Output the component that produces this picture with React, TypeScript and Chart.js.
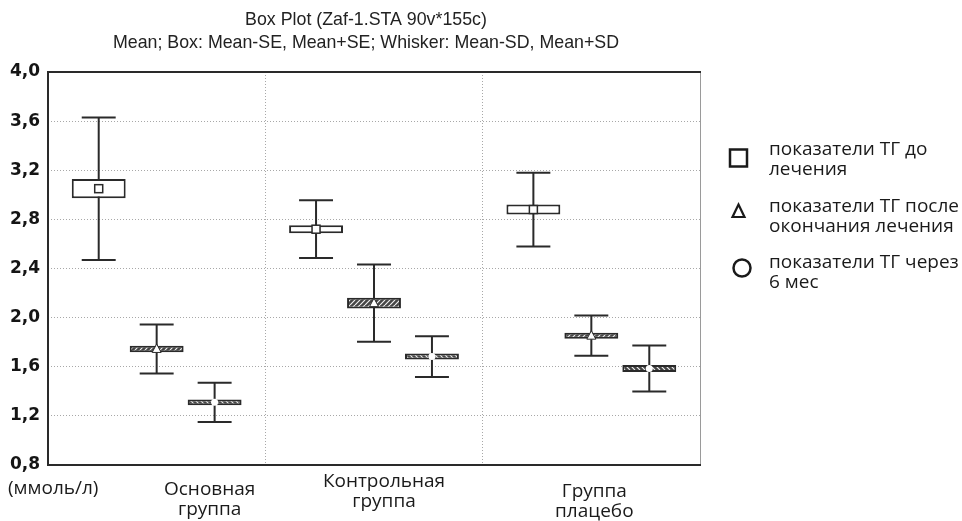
import React, { useEffect, useRef } from 'react';
import { Chart, registerables } from 'chart.js';

Chart.register(...registerables);

// ---- data ----
const groupLabels = ['Основная группа', 'Контрольная группа', 'Группа плацебо'];
const groupLabelLines = [
  ['Основная', 'группа'],
  ['Контрольная', 'группа'],
  ['Группа', 'плацебо'],
];
const seriesNames = [
  'показатели ТГ до лечения',
  'показатели ТГ после окончания лечения',
  'показатели ТГ через 6 мес',
];
const legendLines = [
  ['показатели ТГ до', 'лечения'],
  ['показатели ТГ после', 'окончания лечения'],
  ['показатели ТГ через', '6 мес'],
];

const meanBefore = [3.05, 2.72, 2.88];
const seBefore = [0.078, 0.032, 0.041];
const sdBefore = [0.58, 0.235, 0.3];

const meanAfter = [1.745, 2.118, 1.853];
const seAfter = [0.026, 0.044, 0.024];
const sdAfter = [0.2, 0.315, 0.164];

const mean6m = [1.31, 1.683, 1.586];
const se6m = [0.023, 0.024, 0.029];
const sd6m = [0.16, 0.166, 0.187];

const yMin = 0.8;
const yMax = 4.0;
const yStep = 0.4;

const titleLines = [
  'Box Plot (Zaf-1.STA 90v*155c)',
  'Mean; Box: Mean-SE, Mean+SE; Whisker: Mean-SD, Mean+SD',
];
const unitLabel = '(ммоль/л)';

const means = [meanBefore, meanAfter, mean6m];
const ses = [seBefore, seAfter, se6m];
const sds = [sdBefore, sdAfter, sd6m];

const INK = '#2a2a2a';

function makeHatch(dir: 1 | -1): CanvasPattern | string {
  const c = document.createElement('canvas');
  const s = 5;
  c.width = s;
  c.height = s;
  const g = c.getContext('2d');
  if (!g) return '#555';
  g.fillStyle = '#454545';
  g.fillRect(0, 0, s, s);
  g.strokeStyle = '#f0f0f0';
  g.lineWidth = 1.2;
  g.beginPath();
  if (dir === 1) {
    for (let k = -1; k <= 1; k++) {
      g.moveTo(k * s, s);
      g.lineTo(k * s + s, 0);
    }
  } else {
    for (let k = -1; k <= 1; k++) {
      g.moveTo(k * s, 0);
      g.lineTo(k * s + s, s);
    }
  }
  g.stroke();
  const p = g.createPattern(c, 'repeat');
  return p || '#555';
}

const whiskerPlugin = {
  id: 'whiskers',
  beforeDatasetsDraw(chart: any) {
    const ctx = chart.ctx;
    const y = chart.scales.y;
    ctx.save();
    ctx.strokeStyle = INK;
    ctx.lineWidth = 2;
    chart.data.datasets.forEach((_ds: any, di: number) => {
      const meta = chart.getDatasetMeta(di);
      meta.data.forEach((el: any, i: number) => {
        const m = means[di][i];
        const sd = sds[di][i];
        const x = el.x;
        const hw = el.width * 0.315;
        const yt = y.getPixelForValue(m + sd);
        const yb = y.getPixelForValue(m - sd);
        ctx.beginPath();
        ctx.moveTo(x, yt);
        ctx.lineTo(x, yb);
        ctx.moveTo(x - hw, yt);
        ctx.lineTo(x + hw, yt);
        ctx.moveTo(x - hw, yb);
        ctx.lineTo(x + hw, yb);
        ctx.stroke();
      });
    });
    ctx.restore();
  },
  afterDatasetsDraw(chart: any) {
    const ctx = chart.ctx;
    const y = chart.scales.y;
    ctx.save();
    chart.data.datasets.forEach((_ds: any, di: number) => {
      const meta = chart.getDatasetMeta(di);
      meta.data.forEach((el: any, i: number) => {
        const x = el.x;
        const ym = y.getPixelForValue(means[di][i]);
        ctx.fillStyle = '#ffffff';
        ctx.strokeStyle = INK;
        ctx.lineWidth = 1.5;
        if (di === 0) {
          ctx.fillRect(x - 4, ym - 4, 8, 8);
          ctx.strokeRect(x - 4, ym - 4, 8, 8);
        } else if (di === 1) {
          ctx.beginPath();
          ctx.moveTo(x, ym - 5);
          ctx.lineTo(x + 4.5, ym + 3.5);
          ctx.lineTo(x - 4.5, ym + 3.5);
          ctx.closePath();
          ctx.fill();
          ctx.lineWidth = 1;
          ctx.stroke();
        } else {
          ctx.beginPath();
          ctx.arc(x, ym, 3.5, 0, Math.PI * 2);
          ctx.fill();
        }
      });
    });
    ctx.restore();
  },
};

const framePlugin = {
  id: 'frameAndText',
  afterDraw(chart: any) {
    const ctx = chart.ctx;
    const a = chart.chartArea;
    const xs = chart.scales.x;
    ctx.save();
    // frame
    ctx.strokeStyle = '#9a9a9a';
    ctx.lineWidth = 1;
    ctx.beginPath();
    ctx.moveTo(a.right + 0.5, a.top);
    ctx.lineTo(a.right + 0.5, a.bottom);
    ctx.stroke();
    ctx.strokeStyle = INK;
    ctx.lineWidth = 2;
    ctx.beginPath();
    ctx.moveTo(a.right + 1, a.top);
    ctx.lineTo(a.left, a.top);
    ctx.lineTo(a.left, a.bottom);
    ctx.lineTo(a.right + 1, a.bottom);
    ctx.stroke();

    // title
    ctx.fillStyle = '#222';
    ctx.textAlign = 'center';
    ctx.textBaseline = 'middle';
    ctx.font = '17.8px "Liberation Sans", Arial, sans-serif';
    ctx.fillText(titleLines[0], 366, 20);
    ctx.fillText(titleLines[1], 366, 43);

    // category labels
    const dx = [53, 10, 3];
    const dy = [490, 482, 492];
    ctx.fillStyle = '#1a1a1a';
    ctx.font = '19px "Open Sans", "Noto Sans", sans-serif';
    groupLabelLines.forEach((lines, i) => {
      const cx = xs.getPixelForValue(i) + dx[i];
      lines.forEach((t, k) => ctx.fillText(t, cx, dy[i] + k * 20));
    });
    ctx.textAlign = 'left';
    ctx.fillText(unitLabel, 8, 489);

    // legend
    const ly = [150, 207, 263];
    const sy = [158, 211, 268];
    legendLines.forEach((lines, i) => {
      lines.forEach((t, k) => ctx.fillText(t, 769, ly[i] + k * 20));
    });
    ctx.strokeStyle = '#1a1a1a';
    ctx.lineWidth = 2.5;
    ctx.strokeRect(730, sy[0] - 8.5, 17, 17);
    ctx.lineWidth = 2.2;
    ctx.beginPath();
    ctx.moveTo(738.5, sy[1] - 6.5);
    ctx.lineTo(744.5, sy[1] + 6);
    ctx.lineTo(732.5, sy[1] + 6);
    ctx.closePath();
    ctx.stroke();
    ctx.lineWidth = 2.5;
    ctx.beginPath();
    ctx.arc(742, sy[2], 8.5, 0, Math.PI * 2);
    ctx.stroke();
    ctx.restore();
  },
};

export default function App() {
  const ref = useRef<HTMLCanvasElement | null>(null);
  useEffect(() => {
    const canvas = ref.current;
    if (!canvas) return;
    const fills = ['#ffffff', makeHatch(1), makeHatch(-1)];
    const chart = new Chart(canvas, {
      type: 'bar',
      data: {
        labels: groupLabels,
        datasets: seriesNames.map((name, di) => ({
          label: name,
          data: means[di].map((m, i) => [m - ses[di][i], m + ses[di][i]]) as any,
          backgroundColor: fills[di] as any,
          borderColor: INK,
          borderWidth: 2,
          borderSkipped: false,
          categoryPercentage: 0.8,
          barPercentage: 0.93,
        })),
      },
      options: {
        responsive: false,
        animation: false,
        layout: { padding: { left: 0, right: 262, top: 72, bottom: 56 } },
        plugins: {
          legend: { display: false },
          title: { display: false },
          tooltip: { enabled: false },
        },
        scales: {
          x: {
            type: 'category',
            offset: true,
            ticks: { display: false },
            grid: { display: true, offset: true, color: '#a8a8a8', lineWidth: 1, drawTicks: false },
            border: { display: false, dash: [1, 2] },
            afterFit: (s: any) => { s.height = 0; },
          },
          y: {
            min: yMin,
            max: yMax,
            ticks: {
              stepSize: yStep,
              padding: 8,
              color: '#151515',
              font: { family: '"DejaVu Sans", Arial, sans-serif', size: 17, weight: 'bold' },
              callback: (v: any) => Number(v).toFixed(1).replace('.', ','),
            },
            grid: { color: '#a8a8a8', lineWidth: 1, drawTicks: false },
            border: { display: false, dash: [1, 2] },
            afterFit: (s: any) => { s.width = 48; },
          },
        },
      },
      plugins: [whiskerPlugin, framePlugin],
    } as any);
    return () => chart.destroy();
  }, []);
  return (
    <div style={{ position: 'absolute', left: 0, top: 0, width: 962, height: 521, background: '#fff' }}>
      <canvas ref={ref} width={962} height={521} />
    </div>
  );
}
